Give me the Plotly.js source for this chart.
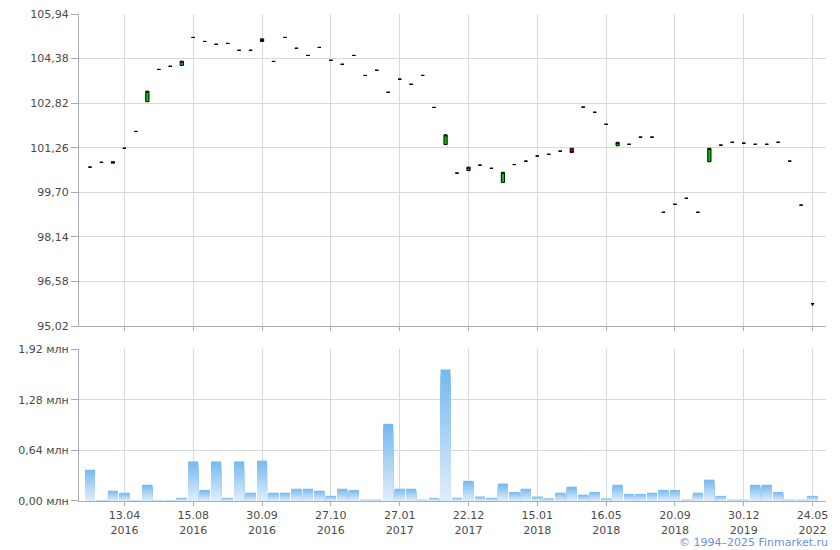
<!DOCTYPE html>
<html>
<head>
<meta charset="utf-8">
<script src="https://cdn.plot.ly/plotly-3.0.1.min.js"></script>
<style>html,body{margin:0;padding:0;background:#fff}#chart{width:840px;height:550px}</style>
</head>
<body>
<div id="chart"></div>
<script>
// ---- data ----
var openP  = [100.58,100.75,100.72,101.24,101.83,102.87,104.00,104.11,104.14,105.12,104.98,104.88,104.91,104.67,104.67,105.07,104.28,105.12,104.74,104.49,104.77,104.32,104.18,104.49,103.79,103.97,103.20,103.66,103.48,103.79,102.67,101.37,100.37,100.46,100.65,100.54,100.04,100.67,100.79,100.97,101.03,101.14,101.24,102.68,102.50,102.08,101.33,101.38,101.63,101.63,99.00,99.28,99.49,99.00,100.77,101.35,101.45,101.42,101.38,101.38,101.45,100.79,99.25,95.80];
var closeP = [100.58,100.75,100.77,101.24,101.83,103.24,104.00,104.11,104.29,105.12,104.98,104.88,104.91,104.67,104.67,104.98,104.28,105.12,104.74,104.49,104.77,104.32,104.18,104.49,103.79,103.97,103.20,103.66,103.48,103.79,102.67,101.71,100.37,100.58,100.65,100.54,100.40,100.67,100.79,100.97,101.03,101.14,101.09,102.68,102.50,102.08,101.45,101.38,101.63,101.63,99.00,99.28,99.49,99.00,101.24,101.35,101.45,101.42,101.38,101.38,101.45,100.79,99.25,95.80];
var highP  = [100.58,100.75,100.77,101.24,101.83,103.24,104.00,104.11,104.29,105.12,104.98,104.88,104.91,104.67,104.67,105.07,104.28,105.12,104.74,104.49,104.77,104.32,104.18,104.49,103.79,103.97,103.20,103.66,103.48,103.79,102.67,101.74,100.37,100.58,100.65,100.54,100.40,100.67,100.79,100.97,101.03,101.14,101.24,102.68,102.50,102.08,101.45,101.38,101.63,101.63,99.00,99.28,99.49,99.00,101.24,101.35,101.45,101.42,101.38,101.38,101.45,100.79,99.25,95.80];
var lowP   = [100.58,100.75,100.72,101.24,101.83,102.87,104.00,104.11,104.14,105.12,104.98,104.88,104.91,104.67,104.67,104.98,104.28,105.12,104.74,104.49,104.77,104.32,104.18,104.49,103.79,103.97,103.20,103.66,103.48,103.79,102.67,101.37,100.37,100.46,100.65,100.54,100.04,100.67,100.79,100.97,101.03,101.14,101.09,102.68,102.50,102.08,101.33,101.38,101.63,101.63,99.00,99.28,99.49,99.00,100.77,101.35,101.45,101.42,101.38,101.38,101.45,100.79,99.25,95.72];
var volumeMln = [0.395,0.01,0.13,0.105,0.01,0.205,0.01,0.01,0.04,0.50,0.14,0.50,0.04,0.50,0.105,0.51,0.105,0.105,0.155,0.155,0.13,0.065,0.155,0.14,0.015,0.015,0.975,0.155,0.155,0.015,0.04,1.66,0.04,0.255,0.055,0.04,0.22,0.115,0.155,0.055,0.03,0.105,0.18,0.08,0.115,0.03,0.205,0.09,0.09,0.105,0.14,0.14,0.015,0.105,0.27,0.065,0.015,0.015,0.205,0.205,0.115,0.015,0.015,0.065];
var tickIndex = [3,9,15,21,27,33,39,45,51,57,63];
var tickLabels = ["13.04<br>2016","15.08<br>2016","30.09<br>2016","27.10<br>2016","27.01<br>2017","22.12<br>2017","15.01<br>2018","16.05<br>2018","20.09<br>2018","30.12<br>2019","24.05<br>2022"];
var priceTicks = [95.02,96.58,98.14,99.70,101.26,102.82,104.38,105.94];
var volTicks = [0,0.64,1.28,1.92];

// ---- build ----
(function(){
var idx = openP.map(function(_, i){ return i; });
var traces = [];
traces.push({
  type: 'candlestick', x: idx, open: openP, high: highP, low: lowP, close: closeP,
  xaxis: 'x', yaxis: 'y', whiskerwidth: 0,
  increasing: {line: {color: '#000', width: 1}, fillcolor: '#00c400'},
  decreasing: {line: {color: '#000', width: 1}, fillcolor: '#e00000'},
  hoverinfo: 'none', showlegend: false
});
var N = 24, cTop = [118,186,240], cBot = [224,237,250];
for (var k = 0; k < N; k++) {
  var f = k / (N - 1);
  var c = 'rgb(' + cTop.map(function(t, j){ return Math.round(t + (cBot[j] - t) * f); }).join(',') + ')';
  var frac = 1 - k / N;
  traces.push({
    type: 'bar', x: idx, y: volumeMln.map(function(v){ return v * frac; }),
    xaxis: 'x2', yaxis: 'y2', marker: {color: c, line: {width: 0}},
    hoverinfo: 'none', showlegend: false
  });
}
var fnt = {family: 'DejaVu Sans, Verdana, sans-serif', size: 11, color: '#4a4a4a'};
var grid = '#d5dadf', axl = '#a8acb4';
var xr = [-0.96, 64.17];
var layout = {
  width: 840, height: 550,
  margin: {l: 79, r: 14, t: 14, b: 49},
  paper_bgcolor: '#fff', plot_bgcolor: '#fff',
  font: fnt, showlegend: false,
  barmode: 'overlay', bargap: 0.13, boxgap: 0.6,
  xaxis: {domain: [0, 1], range: xr, tickvals: tickIndex, showticklabels: false,
    ticks: 'outside', ticklen: 4, tickcolor: axl, showgrid: true, gridcolor: grid,
    showline: true, linecolor: axl, zeroline: false, rangeslider: {visible: false}, anchor: 'y'},
  yaxis: {domain: [0.3593, 1], range: [95.02, 105.94], tickvals: priceTicks,
    ticktext: priceTicks.map(function(v){ return v.toFixed(2).replace('.', ','); }),
    ticks: 'outside', ticklen: 7, tickcolor: axl, gridcolor: grid, showline: true,
    linecolor: axl, zeroline: false, tickfont: fnt, anchor: 'x'},
  xaxis2: {domain: [0, 1], range: xr, tickvals: tickIndex, ticktext: tickLabels,
    ticks: 'outside', ticklen: 4, tickcolor: axl, showgrid: true, gridcolor: grid,
    showline: true, linecolor: axl, zeroline: false, tickfont: fnt, anchor: 'y2'},
  yaxis2: {domain: [0, 0.3121], range: [0, 1.92], tickvals: volTicks,
    ticktext: volTicks.map(function(v){ return v.toFixed(2).replace('.', ',') + ' млн'; }),
    ticks: 'outside', ticklen: 7, tickcolor: axl, gridcolor: grid, showline: true,
    linecolor: axl, zeroline: false, tickfont: fnt, anchor: 'x2'},
  annotations: [{xref: 'paper', yref: 'paper', x: 1, y: -0.0842, xanchor: 'right', yanchor: 'middle',
    xshift: 4, showarrow: false, text: '© 1994–2025 Finmarket.ru',
    font: {family: 'DejaVu Sans, Verdana, sans-serif', size: 11, color: '#6b8fe0'}}]
};
Plotly.newPlot('chart', traces, layout, {staticPlot: true, displayModeBar: false});
})();
</script>
</body>
</html>
